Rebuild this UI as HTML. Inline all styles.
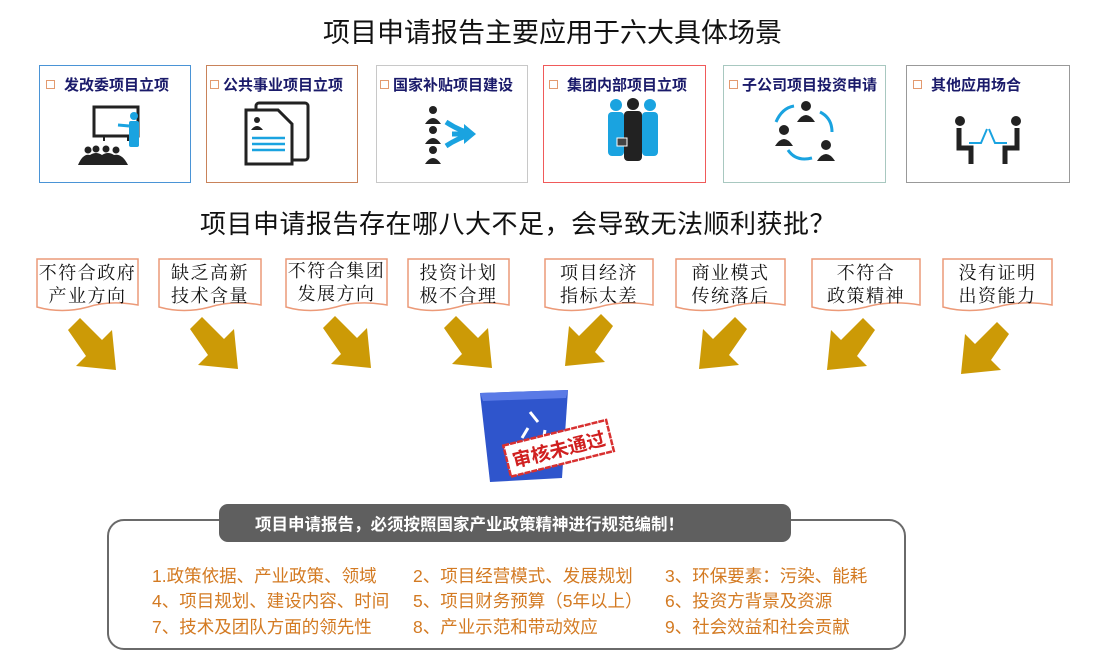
<!DOCTYPE html>
<html><head><meta charset="utf-8">
<style>
body{margin:0;width:1114px;height:668px;background:#fff;position:relative;overflow:hidden;font-family:"Liberation Sans","Noto Sans CJK SC",sans-serif;}
.a{position:absolute;white-space:nowrap;}
.t1{font-size:27px;color:#111;}
.bx{position:absolute;box-sizing:border-box;border:1.5px solid;background:#fff;}
.bt{position:absolute;top:8px;font-size:15px;font-weight:bold;color:#1a1a6a;white-space:nowrap;}
.cb{display:inline-block;width:7px;height:7px;border:1.5px solid #e39a6f;margin-right:9px;vertical-align:1px;}
.wl{position:absolute;font-family:"Noto Serif CJK SC","Liberation Serif",serif;font-size:18px;letter-spacing:1.5px;line-height:23px;color:#111;text-align:center;}
.it{position:absolute;font-family:"Liberation Sans","Noto Sans CJK SC",sans-serif;font-size:17.5px;color:#d37a22;white-space:nowrap;}
</style></head><body>
<div class="a t1" style="left:323px;top:11px;">项目申请报告主要应用于六大具体场景</div>

<div class="bx" style="left:39px;top:65px;width:152px;height:118px;border-color:#4a94d6;"><div class="bt" style="left:6px;"><span class="cb"></span>发改委项目立项</div></div>
<div class="bx" style="left:206px;top:65px;width:152px;height:118px;border-color:#c9835a;"><div class="bt" style="left:3px;"><span class="cb" style="margin-right:4px"></span>公共事业项目立项</div></div>
<div class="bx" style="left:376px;top:65px;width:152px;height:118px;border-color:#c8c8c8;"><div class="bt" style="left:3px;"><span class="cb" style="margin-right:4px"></span>国家补贴项目建设</div></div>
<div class="bx" style="left:543px;top:65px;width:163px;height:118px;border-color:#f05a5a;"><div class="bt" style="left:5px;"><span class="cb"></span>集团内部项目立项</div></div>
<div class="bx" style="left:723px;top:65px;width:163px;height:118px;border-color:#a8c8c0;"><div class="bt" style="left:5px;"><span class="cb" style="margin-right:4px"></span>子公司项目投资申请</div></div>
<div class="bx" style="left:906px;top:65px;width:164px;height:118px;border-color:#999;"><div class="bt" style="left:6px;"><span class="cb"></span>其他应用场合</div></div>

<svg class="a" style="left:0;top:0" width="1114" height="668">
<rect x="94" y="107" width="44" height="29" fill="none" stroke="#222" stroke-width="3"/>
<line x1="104" y1="136" x2="104" y2="141" stroke="#222" stroke-width="2"/><line x1="128" y1="136" x2="128" y2="141" stroke="#222" stroke-width="2"/>
<circle cx="134" cy="116" r="4" fill="#1aa3e0"/><rect x="129" y="121" width="10" height="26" rx="2" fill="#1aa3e0"/><line x1="129" y1="126" x2="118" y2="125" stroke="#1aa3e0" stroke-width="3"/>
<g fill="#222"><circle cx="88" cy="150" r="3.5"/><circle cx="96" cy="149" r="3.5"/><circle cx="106" cy="149" r="3.5"/><circle cx="116" cy="150" r="3.5"/><path d="M78 165 q5-12 12-10 q6-4 12 0 q6-4 12 0 q8-2 14 10z"/></g>
<rect x="256" y="103" width="52" height="57" rx="3" fill="#fff" stroke="#222" stroke-width="3"/>
<path d="M246 110 h32 l14 14 v40 h-46z" fill="#fff" stroke="#222" stroke-width="3"/>
<circle cx="257" cy="120" r="3" fill="#222"/><path d="M251 130 q6-8 12 0z" fill="#222"/>
<g stroke="#1aa3e0" stroke-width="2.5"><line x1="252" y1="138" x2="285" y2="138"/><line x1="252" y1="144" x2="285" y2="144"/><line x1="252" y1="150" x2="285" y2="150"/></g>
<g fill="#222"><circle cx="433" cy="110" r="4"/><path d="M425 124 q8-12 16 0z"/><circle cx="433" cy="130" r="4"/><path d="M425 144 q8-12 16 0z"/><circle cx="433" cy="150" r="4"/><path d="M425 164 q8-12 16 0z"/></g>
<path d="M446 122 q12 8 26 12 M446 146 q12-8 26-12 M452 134 h14" stroke="#1aa3e0" stroke-width="5" fill="none"/><path d="M464 124 l12 10 -12 10z" fill="#1aa3e0"/>
<g fill="#1aa3e0"><circle cx="616" cy="105" r="6"/><rect x="608" y="112" width="16" height="44" rx="4"/><circle cx="650" cy="105" r="6"/><rect x="642" y="112" width="16" height="44" rx="4"/></g>
<circle cx="633" cy="104" r="6" fill="#222"/><rect x="624" y="111" width="18" height="50" rx="4" fill="#222"/><rect x="617" y="138" width="10" height="8" fill="#444" stroke="#fff"/>
<g fill="#222"><circle cx="806" cy="106" r="5"/><path d="M797 122 q9-14 18 0z"/><circle cx="784" cy="130" r="5"/><path d="M775 146 q9-14 18 0z"/><circle cx="826" cy="145" r="5"/><path d="M817 161 q9-14 18 0z"/></g>
<g stroke="#1aa3e0" stroke-width="3" fill="none"><path d="M776 122 q6-14 18-16"/><path d="M820 112 q12 6 12 20"/><path d="M788 150 q8 12 24 8"/></g>
<g fill="#222"><circle cx="960" cy="121" r="5"/><circle cx="1016" cy="121" r="5"/></g>
<g stroke="#222" stroke-width="5" fill="none"><path d="M959 128 v20 h12 v16"/><path d="M1017 128 v20 h-12 v16"/></g>
<g stroke="#1aa3e0" stroke-width="2" fill="none"><path d="M969 143 h12 l6 -14"/><path d="M1007 143 h-12 l-6 -14"/></g>
</svg>

<div class="a" style="left:200px;top:204px;font-size:26px;letter-spacing:0.5px;color:#111;">项目申请报告存在哪八大不足，会导致无法顺利获批？</div>

<svg class="a" style="left:0;top:0" width="1114" height="668">
<g fill="#fff" stroke="#ec9a78" stroke-width="1.5">
<path d="M37 259 H138 V305 Q110 300 88 307 Q62 314 37 307 Z"/>
<path d="M159 259 H261 V305 Q233 300 210 307 Q184 314 159 307 Z"/>
<path d="M286 259 H387 V305 Q359 300 336 307 Q310 314 286 307 Z"/>
<path d="M408 259 H509 V305 Q481 300 458 307 Q432 314 408 307 Z"/>
<path d="M545 259 H653 V305 Q623 300 599 307 Q571 314 545 307 Z"/>
<path d="M676 259 H785 V305 Q755 300 730 307 Q702 314 676 307 Z"/>
<path d="M812 259 H920 V305 Q890 300 866 307 Q838 314 812 307 Z"/>
<path d="M943 259 H1052 V305 Q1022 300 997 307 Q969 314 943 307 Z"/>
</g>
<defs><g id="dr"><polygon points="12,0 34,22 44,12 48,52 8,48 18,38 0,12" fill="#cc9a06"/></g>
<g id="dl"><polygon points="36,0 14,22 4,12 0,52 40,48 30,38 48,12" fill="#cc9a06"/></g></defs>
<use href="#dr" x="68" y="318"/><use href="#dr" x="190" y="317"/><use href="#dr" x="323" y="316"/><use href="#dr" x="444" y="316"/>
<use href="#dl" x="565" y="314"/><use href="#dl" x="699" y="317"/><use href="#dl" x="827" y="318"/><use href="#dl" x="961" y="322"/>
<path d="M480 393 L568 390 L562 478 L490 482 Z" fill="#2f55cc"/>
<path d="M480 393 L568 390 L566 398 L483 401 Z" fill="#5a7ae6"/>
<g stroke="#fff" stroke-width="3" fill="none"><path d="M530 412 l8 10"/><path d="M528 428 l-6 10"/><path d="M545 430 l-2 12"/></g>
<g transform="rotate(-14 560 450)"><rect x="506" y="432" width="106" height="32" fill="#fff" stroke="#d83030" stroke-width="2.5" stroke-dasharray="6 1"/>
<text x="559" y="456" text-anchor="middle" font-size="19" font-weight="bold" fill="#d02020" font-family="Liberation Sans,Noto Sans CJK SC,sans-serif">审核未通过</text></g>
<rect x="108" y="520" width="797" height="129" rx="16" fill="#fff" stroke="#6a6a6a" stroke-width="2"/>
<rect x="219" y="504" width="572" height="38" rx="9" fill="#5f5f5f"/>
</svg>

<div class="wl" style="left:37px;top:261px;width:101px;">不符合政府<br>产业方向</div>
<div class="wl" style="left:159px;top:261px;width:102px;">缺乏高新<br>技术含量</div>
<div class="wl" style="left:286px;top:259px;width:101px;">不符合集团<br>发展方向</div>
<div class="wl" style="left:408px;top:261px;width:101px;">投资计划<br>极不合理</div>
<div class="wl" style="left:545px;top:261px;width:108px;">项目经济<br>指标太差</div>
<div class="wl" style="left:676px;top:261px;width:109px;">商业模式<br>传统落后</div>
<div class="wl" style="left:812px;top:261px;width:108px;">不符合<br>政策精神</div>
<div class="wl" style="left:943px;top:261px;width:109px;">没有证明<br>出资能力</div>

<div class="a" style="left:255px;top:511px;font-size:16.5px;font-weight:bold;color:#fff;">项目申请报告，必须按照国家产业政策精神进行规范编制！</div>

<div class="it" style="left:152px;top:563px;">1.政策依据、产业政策、领域</div>
<div class="it" style="left:413px;top:563px;">2、项目经营模式、发展规划</div>
<div class="it" style="left:665px;top:563px;">3、环保要素：污染、能耗</div>
<div class="it" style="left:152px;top:588px;">4、项目规划、建设内容、时间</div>
<div class="it" style="left:413px;top:588px;">5、项目财务预算（5年以上）</div>
<div class="it" style="left:665px;top:588px;">6、投资方背景及资源</div>
<div class="it" style="left:152px;top:614px;">7、技术及团队方面的领先性</div>
<div class="it" style="left:413px;top:614px;">8、产业示范和带动效应</div>
<div class="it" style="left:665px;top:614px;">9、社会效益和社会贡献</div>
</body></html>
